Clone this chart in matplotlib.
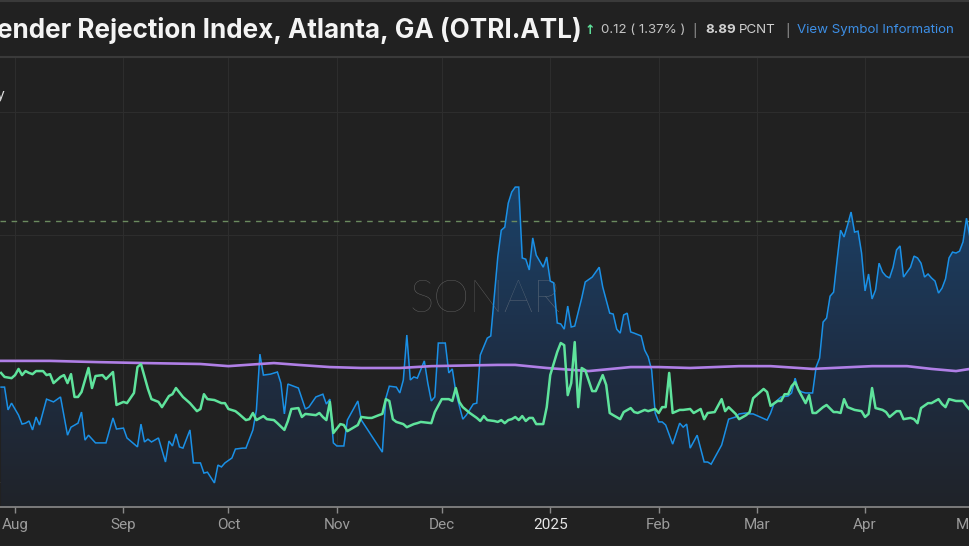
import numpy as np
import matplotlib
matplotlib.use("Agg")
import matplotlib.pyplot as plt
import matplotlib.dates as mdates
from matplotlib.patches import PathPatch
from matplotlib.lines import Line2D
from matplotlib.colors import LinearSegmentedColormap

# ---------------- data ----------------
START_DATE = "2024-07-28"

otri_days = [0, 1, 2, 3, 5, 6, 7, 8, 9, 10, 11, 13, 15, 17, 19, 20, 22, 23, 24, 25,
             27, 30, 32, 33, 35, 36, 39, 40, 41, 42, 43, 45, 47, 48, 49, 50, 51, 52, 54, 55,
             57, 58, 59, 61, 62, 63, 64, 66, 67, 69, 70, 72, 73, 74, 75, 77, 79, 80, 81, 82,
             85, 87, 88, 90, 92, 93, 94, 95, 96, 98, 99, 102, 103, 109, 110, 111, 113, 114, 115, 116,
             117, 118, 119, 121, 122, 123, 124, 125, 127, 128, 129, 130, 132, 133, 135, 136, 137, 139, 140, 141,
             142, 143, 144, 145, 146, 147, 148, 149, 150, 151, 152, 153, 155, 156, 157, 158, 159, 160, 161, 162,
             163, 164, 166, 167, 169, 170, 171, 172, 173, 174, 175, 176, 177, 178, 179, 180, 181, 183, 184, 185,
             186, 187, 188, 189, 190, 192, 194, 195, 196, 197, 199, 201, 202, 203, 206, 208, 210, 211, 213, 214,
             215, 219, 220, 221, 223, 225, 226, 227, 228, 229, 230, 232, 233, 234, 235, 236, 237, 238, 239, 240,
             241, 242, 243, 244, 245, 246, 247, 248, 249, 250, 251, 252, 253, 254, 255, 256, 257, 258, 259, 260,
             261, 262, 263, 264, 265, 266, 267, 268, 269, 270, 271, 272, 273, 274, 275, 276, 277]
otri_vals = [3.08, 3.08, 2.34, 2.56, 2.17, 1.88, 1.91, 1.98, 1.69, 2.11, 1.85, 2.69, 2.60, 2.76, 1.52, 1.78, 1.91, 2.27, 1.36, 1.52,
             1.27, 1.27, 2.08, 1.72, 1.75, 1.43, 1.14, 1.88, 1.30, 1.39, 1.30, 1.43, 0.65, 1.33, 1.17, 1.56, 1.14, 1.10, 1.69, 0.62,
             0.62, 0.29, 0.32, -0.03, 0.55, 0.49, 0.62, 0.78, 1.07, 1.10, 1.10, 1.69, 2.34, 4.15, 3.47, 3.50, 3.57, 3.21, 2.21, 3.18,
             3.05, 2.37, 2.43, 2.76, 2.85, 2.53, 2.69, 1.27, 1.17, 1.17, 2.01, 2.63, 2.01, 0.97, 2.72, 3.11, 3.08, 2.89, 3.31, 4.77,
             3.31, 3.41, 3.37, 3.93, 3.21, 2.63, 2.76, 4.51, 4.51, 3.54, 3.67, 2.92, 2.04, 2.17, 2.53, 2.56, 4.12, 4.67, 4.74, 6.00,
             7.30, 8.17, 8.27, 9.05, 9.41, 9.57, 9.57, 7.27, 7.23, 6.88, 7.92, 7.36, 6.97, 7.30, 6.52, 6.46, 5.16, 5.13, 4.96, 5.71,
             5.03, 5.06, 5.97, 6.49, 6.65, 6.81, 6.97, 6.33, 5.90, 5.48, 5.45, 4.96, 4.83, 5.42, 5.48, 4.87, 4.83, 4.74, 4.28, 4.06,
             3.63, 2.24, 1.95, 1.95, 1.85, 1.23, 1.91, 1.78, 1.88, 1.10, 1.52, 0.65, 0.65, 0.58, 1.20, 2.04, 2.11, 2.21, 2.24, 2.21,
             2.21, 2.01, 2.24, 2.56, 2.76, 2.79, 2.89, 3.37, 2.98, 2.92, 2.89, 2.89, 3.73, 4.02, 5.19, 5.32, 6.03, 6.16, 7.20, 8.17,
             7.95, 8.34, 8.76, 8.11, 8.14, 7.43, 6.20, 6.75, 5.94, 6.23, 7.10, 6.81, 6.68, 6.62, 6.97, 7.53, 7.66, 6.65, 6.81, 6.97,
             7.33, 7.27, 7.10, 6.65, 6.75, 6.62, 6.52, 6.13, 6.29, 6.59, 7.27, 7.46, 7.43, 7.49, 7.79, 8.56, 7.92]

green_days = [0, 1, 3, 4, 5, 6, 7, 8, 9, 10, 12, 13, 14, 15, 17, 18, 19, 20, 21, 22,
              23, 24, 25, 26, 27, 29, 30, 32, 33, 35, 36, 38, 39, 40, 42, 43, 45, 46, 48, 49,
              50, 52, 54, 56, 57, 58, 59, 61, 63, 64, 65, 67, 68, 70, 71, 72, 73, 75, 76, 78,
              79, 81, 82, 83, 85, 86, 87, 90, 91, 92, 93, 94, 95, 97, 98, 99, 102, 103, 105, 106,
              108, 109, 110, 111, 112, 113, 115, 116, 118, 119, 120, 123, 124, 126, 128, 129, 130, 131, 132, 134,
              136, 137, 138, 139, 141, 142, 143, 144, 145, 146, 147, 148, 149, 150, 151, 152, 153, 155, 156, 157,
              159, 160, 161, 162, 163, 164, 165, 166, 167, 169, 170, 172, 173, 174, 175, 177, 178, 180, 181, 182,
              184, 185, 187, 188, 189, 190, 191, 192, 194, 195, 197, 198, 200, 201, 202, 204, 206, 207, 208, 210,
              211, 213, 214, 215, 218, 219, 220, 222, 223, 224, 225, 226, 227, 228, 230, 231, 232, 233, 235, 236,
              238, 239, 240, 241, 242, 244, 246, 247, 248, 249, 250, 252, 253, 254, 256, 257, 258, 260, 261, 262,
              263, 265, 266, 268, 269, 270, 271, 273, 275, 276, 277]
green_vals = [3.54, 3.41, 3.37, 3.47, 3.67, 3.47, 3.60, 3.54, 3.50, 3.60, 3.60, 3.47, 3.50, 3.21, 3.41, 3.47, 3.21, 3.50, 2.76, 2.76,
              2.92, 3.31, 3.70, 3.05, 3.44, 3.47, 3.34, 3.57, 2.50, 2.60, 2.56, 2.89, 3.73, 3.83, 3.02, 2.69, 2.60, 2.43, 2.79, 2.85,
              3.05, 2.76, 2.56, 2.30, 2.37, 2.85, 2.69, 2.66, 2.56, 2.56, 2.37, 2.30, 2.21, 2.01, 2.04, 2.24, 2.01, 2.14, 2.04, 2.01,
              1.91, 1.69, 1.98, 2.37, 2.40, 2.11, 2.21, 2.17, 2.24, 2.11, 2.01, 2.60, 1.59, 1.88, 1.85, 1.65, 1.85, 2.11, 2.08, 2.08,
              2.17, 2.21, 2.69, 2.63, 2.04, 1.95, 1.88, 1.78, 1.88, 1.91, 1.95, 1.91, 2.27, 2.69, 2.69, 2.63, 3.05, 2.60, 2.43, 2.24,
              2.08, 1.98, 2.14, 2.01, 1.98, 1.95, 2.01, 1.91, 2.01, 2.04, 2.11, 2.01, 2.14, 1.98, 2.08, 2.08, 1.88, 1.88, 2.43, 3.47,
              4.22, 4.51, 4.44, 2.82, 3.21, 4.54, 2.43, 3.70, 3.63, 2.95, 2.95, 3.47, 3.15, 2.24, 2.17, 2.04, 2.27, 2.40, 2.27, 2.24,
              2.34, 2.30, 2.37, 2.24, 2.43, 2.43, 3.54, 2.24, 2.34, 2.34, 2.37, 2.24, 2.37, 2.04, 2.24, 2.27, 2.69, 2.30, 2.43, 2.21,
              2.04, 2.17, 2.27, 2.72, 3.02, 2.92, 2.47, 2.63, 2.63, 2.85, 2.85, 3.11, 3.24, 2.98, 2.56, 2.82, 2.24, 2.24, 2.43, 2.50,
              2.27, 2.27, 2.24, 2.69, 2.43, 2.34, 2.30, 2.11, 2.21, 3.05, 2.40, 2.34, 2.27, 2.11, 2.30, 2.30, 2.04, 2.08, 2.04, 1.91,
              2.40, 2.56, 2.56, 2.69, 2.53, 2.43, 2.69, 2.63, 2.63, 2.47, 2.34]

purple_days = [0, 14, 28, 41, 57, 65, 74, 78, 85, 94, 103, 114, 123, 142, 147, 156, 168, 180, 188, 197,
               211, 220, 228, 232, 249, 259, 266, 273, 277]
purple_vals = [3.93, 3.93, 3.89, 3.86, 3.83, 3.76, 3.83, 3.86, 3.80, 3.73, 3.70, 3.70, 3.76, 3.80, 3.80, 3.70, 3.60, 3.73, 3.73, 3.70,
               3.76, 3.76, 3.70, 3.67, 3.76, 3.76, 3.67, 3.60, 3.67]

last_value_line = 8.47
grid_values = [0, 4, 8, 12]
tick_dates = ["2024-08-01", "2024-09-01", "2024-10-01", "2024-11-01", "2024-12-01",
              "2025-01-01", "2025-02-01", "2025-03-01", "2025-04-01", "2025-05-01"]
tick_labels = ["Aug", "Sep", "Oct", "Nov", "Dec", "2025", "Feb", "Mar", "Apr", "May"]

title_text = "ender Rejection Index, Atlanta, GA (OTRI.ATL)"
change_text = "0.12 ( 1.37% )"
value_text = "8.89"
unit_text = "PCNT"
link_text = "View Symbol Information"
legend_tail = "y"
watermark = "SONAR"

# ---------------- helpers ----------------
W, H = 970, 546
BG = "#212121"
base = np.datetime64(START_DATE)


def to_num(days):
    return mdates.date2num(base + np.array(days).astype("timedelta64[D]"))


def fx(px):
    return px / W


def fy(py):
    return 1 - py / H


x_otri = to_num(otri_days)
x_green = to_num(green_days)
x_purple = to_num(purple_days)
x0 = mdates.date2num(base) - 0.3
x1 = mdates.date2num(base) + 277.0
y0, y1 = -0.81, 13.79

fig = plt.figure(figsize=(W / 100, H / 100), dpi=100, facecolor=BG)
ax = fig.add_axes([0, 39 / H, 1, 450 / H])
ax.set_facecolor(BG)

# gradient fill under the main series
cmap = LinearSegmentedColormap.from_list(
    "fill", [(0.0, "#202329"), (0.33, "#1e2e45"), (0.6, "#1c3c5e"), (1.0, "#1a4a78")])
grad = np.linspace(0, 1, 256).reshape(-1, 1)
im = ax.imshow(grad, extent=[x0, x1, y0, y1], origin="lower", aspect="auto",
               cmap=cmap, zorder=1, interpolation="bilinear")
fill = ax.fill_between(x_otri, otri_vals, y0, facecolor="none", edgecolor="none", zorder=1)
clip = PathPatch(fill.get_paths()[0], transform=ax.transData, facecolor="none", edgecolor="none")
ax.add_patch(clip)
im.set_clip_path(clip)

ax.plot(x_otri, otri_vals, color="#1a90e6", lw=1.1, zorder=3, solid_joinstyle="miter")
ax.plot(x_purple, purple_vals, color="#b07fe6", lw=1.9, zorder=4)
ax.plot(x_green, green_vals, color="#5fe39c", lw=1.8, zorder=5)
ax.axhline(last_value_line, color="#6b8a5f", lw=1.0, ls=(0, (4, 4)), zorder=2)

ax.set_xlim(x0, x1)
ax.set_ylim(y0, y1)

# grid
for gv in grid_values:
    ax.axhline(gv, color="#2d2d2d", lw=0.8, zorder=0.5)
tick_pos = mdates.date2num(np.array(tick_dates, dtype="datetime64[D]"))
for tp in tick_pos:
    ax.axvline(tp, color="#2d2d2d", lw=0.8, zorder=0.5)

ax.set_xticks(tick_pos)
ax.set_xticklabels(tick_labels, family=["Roboto", "DejaVu Sans"], fontsize=11)
for lab in ax.get_xticklabels():
    lab.set_color("#e6e6e6" if lab.get_text() == "2025" else "#9c9c9c")
ax.tick_params(axis="x", direction="out", length=4, width=1, color="#8a8a8a", pad=4)
ax.set_yticks([])
for s in ["top", "left", "right"]:
    ax.spines[s].set_visible(False)
ax.spines["bottom"].set_color("#8a8a8a")
ax.spines["bottom"].set_linewidth(1.2)

# watermark
ax.text(0.5, (507 - 300) / 450, watermark, transform=ax.transAxes,
        ha="center", va="center", fontsize=33, color="#a8a8a8", alpha=0.48,
        family=["Lato", "DejaVu Sans"], fontweight="light", zorder=2.5)

# header lines
fig.add_artist(Line2D([0, 1], [fy(57), fy(57)], transform=fig.transFigure, color="#3a3a3a", lw=1.5))
fig.add_artist(Line2D([0, 1], [fy(0.8), fy(0.8)], transform=fig.transFigure, color="#3a3a3a", lw=1.5))
fig.add_artist(Line2D([0, 1], [fy(545.5), fy(545.5)], transform=fig.transFigure, color="#2c2c2c", lw=1))

# title, auto-fit to width
renderer = fig.canvas.get_renderer()
t = fig.text(fx(582), fy(31), title_text, ha="right", va="center", fontsize=18,
             fontweight="bold", color="#f4f4f4", family=["Inter", "DejaVu Sans"])
bw = t.get_window_extent(renderer=renderer).width
t.set_fontsize(18 * 584 / bw)

hdr = dict(va="center", fontsize=9.6, family=["Inter", "DejaVu Sans"])
fig.text(fx(590), fy(30), "\u2191", color="#5fe39c", ha="center", fontweight="bold",
         va="center", fontsize=9, family=["DejaVu Sans"])
fig.text(fx(601), fy(30), change_text, color="#c4c4c4", ha="left", **hdr)
fig.text(fx(695), fy(30), "|", color="#9a9a9a", ha="center", **hdr)
fig.text(fx(705), fy(30), value_text, color="#d0d0d0", ha="left", fontweight="bold", **hdr)
fig.text(fx(739), fy(30), unit_text, color="#d0d0d0", ha="left", **hdr)
fig.text(fx(788), fy(30), "|", color="#9a9a9a", ha="center", **hdr)
fig.text(fx(797), fy(30), link_text, color="#3d8fe6", ha="left", **hdr)

fig.text(fx(4), fy(95), legend_tail, color="#e0e0e0", ha="right", va="center",
         fontsize=10, family=["Inter", "DejaVu Sans"])

fig.savefig("out.png", dpi=100, facecolor=BG)
